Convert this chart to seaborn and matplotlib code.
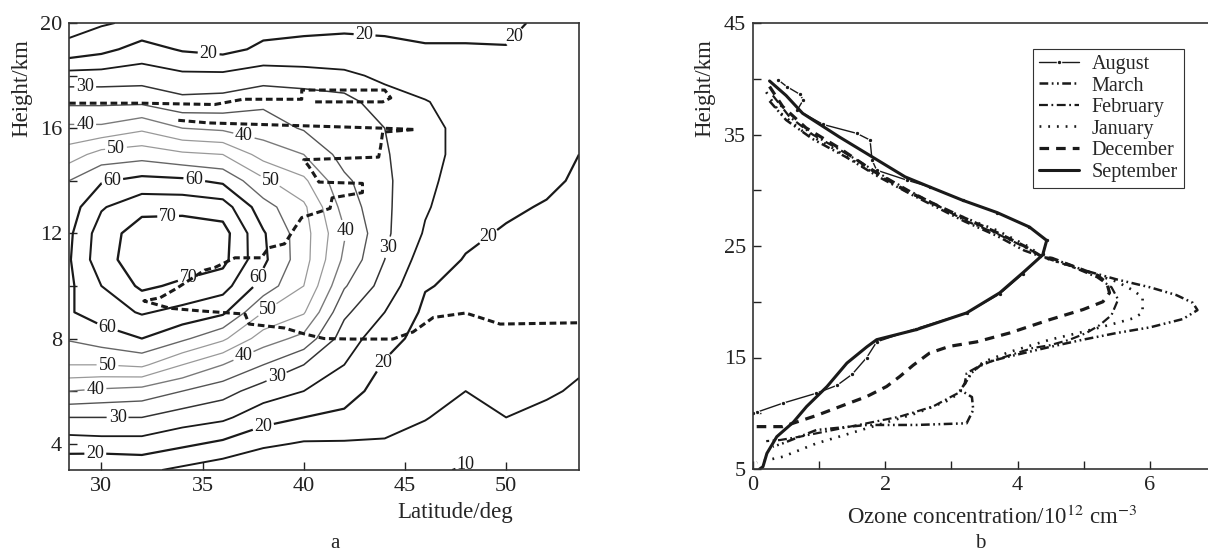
import numpy as np
import pandas as pd
import matplotlib
matplotlib.use("Agg")
import matplotlib.pyplot as plt
import seaborn as sns

# ---------------- panel a: humidity field (%) ----------------
lat_nodes = [28.4, 30, 32, 34, 36, 38, 40, 42, 44, 46, 48, 50, 52, 53.6]
height_nodes = list(range(3, 21))
# one column per latitude, heights 3..20 km
rh_284 = [16, 22.5, 30, 40, 50, 55.5, 59.5, 59, 59.5, 59, 57.5, 55, 47.5, 41, 34, 27, 16.5, 13]
rh_30 = [15, 23, 30, 39, 50, 57.5, 62.5, 65, 68, 67.5, 64.5, 59.5, 52, 41, 34, 27, 18.5, 14.5]
rh_32 = [16, 23, 30, 38, 51, 60, 65.5, 71, 73, 72.5, 68.5, 61.5, 53, 44, 34, 27.5, 22, 16]
rh_34 = [14, 21, 27.5, 35, 45, 56, 63.5, 69, 73, 73, 68.5, 61, 51, 40, 31.5, 26, 19.5, 19]
rh_36 = [12, 19, 26, 32, 40, 51, 61, 67, 71.5, 72, 67.5, 59, 50, 39, 32, 26, 18.5, 18]
rh_38 = [10, 16, 22, 27.5, 35, 42.5, 50, 58, 61, 60.5, 57, 51, 43, 37.5, 34, 27.5, 21, 18]
rh_40 = [11, 14.5, 20, 25, 30, 38.5, 45.5, 50, 52, 52, 51, 46, 40, 34.5, 33, 27, 21, 19]
rh_42 = [12, 14.5, 19, 22, 25, 27.5, 31, 35.5, 39, 40.5, 38, 36, 33, 32, 32, 26, 21.5, 19]
rh_44 = [12, 14.5, 17, 18, 19.5, 22, 25, 28, 30, 31, 31, 31, 30.5, 30, 27, 24, 21, 19]
rh_46 = [11, 13.5, 15.2, 16.5, 17, 18, 19, 20.3, 22.5, 24.5, 25.5, 26, 26.5, 26, 25.2, 23, 20.3, 19]
rh_48 = [9.5, 12, 13.5, 15, 16, 17, 18, 19, 19.7, 21, 22, 23, 23.5, 24, 23.5, 22, 20.3, 19]
rh_50 = [12, 13.5, 15, 16, 16.5, 17, 17.5, 18, 18.8, 19.5, 20.8, 22, 22.5, 23, 23, 22, 20.2, 19]
rh_52 = [12, 13, 14, 15.5, 16, 16.5, 17, 17.5, 18, 18.8, 19.6, 21, 22, 22.5, 22.5, 22, 21.5, 21]
rh_536 = [12.5, 13, 13.8, 14.5, 15.5, 16, 16.5, 17, 17.5, 18, 18.7, 19.3, 20, 21, 22, 22, 21.5, 21]

label_levels = [10, 20, 30, 40, 50, 60, 70]
mid_levels = [15, 25, 35, 45, 55, 65]

# tropopause (dashed)
tropo_up_lat = [28.4, 32, 35.6, 37, 39.9, 39.9, 44.0, 44.3, 43.9, 40.5]
tropo_up_h = [16.95, 16.95, 16.9, 17.1, 17.1, 17.45, 17.45, 17.15, 17.0, 17.0]
tropo_lat = [33.8, 35.3, 43.9, 45.5, 43.9, 43.8, 43.7, 40.0, 40.25, 40.75, 42.9, 42.9, 41.4,
             41.3, 39.9, 39.55, 39.05, 38.26, 37.9, 36.6, 35.6, 35.1, 33.7, 32.9, 32.1,
             33.4, 34.9, 37.1, 37.3, 39.05, 40.05, 41.0, 42.4, 44.4, 45.4, 46.4, 48.0,
             48.7, 49.7, 53.6]
tropo_h = [16.3, 16.2, 16.0, 15.95, 15.85, 15.3, 14.9, 14.8, 14.55, 13.95, 13.9, 13.55, 13.35,
           12.95, 12.6, 12.2, 11.6, 11.45, 11.07, 11.07, 10.7, 10.6, 9.9, 9.55, 9.43,
           9.15, 9.05, 8.93, 8.55, 8.4, 8.17, 8.0, 7.98, 7.98, 8.25, 8.8, 8.97,
           8.8, 8.55, 8.6]

# ---------------- panel b: ozone profiles (10^12 cm^-3 vs km) ----------------
sep_c = [0.25, 0.5, 0.75, 1.3, 1.8, 2.3, 2.67, 3.17, 3.69, 4.18, 4.44, 4.38, 4.08, 3.73, 3.23,
         2.47, 1.87, 1.72, 1.42, 1.12, 0.81, 0.61, 0.36, 0.21, 0.15, 0.1]
sep_h = [39.8, 38.5, 36.9, 34.8, 33.0, 31.2, 30.3, 29.1, 28.0, 26.7, 25.5, 24.2, 22.6, 20.8,
         19.0, 17.5, 16.6, 15.95, 14.5, 12.4, 10.6, 9.2, 7.9, 6.4, 5.2, 5.0]
aug_c = [0.38, 0.51, 0.71, 0.76, 0.67, 1.06, 1.57, 1.77, 1.8, 1.87, 2.33, 2.67, 3.17, 3.69,
         4.18, 4.44, 4.38, 4.08, 3.73, 3.23, 2.47, 1.87, 1.72, 1.5, 1.27, 0.96, 0.45, 0.06, 0.0]
aug_h = [39.9, 39.3, 38.6, 38.1, 37.2, 35.9, 35.1, 34.5, 32.7, 31.8, 30.9, 30.3, 29.1, 28.0,
         26.7, 25.5, 24.3, 22.5, 20.7, 19.0, 17.6, 16.4, 15.0, 13.5, 12.5, 11.8, 10.9, 10.1, 10.0]
mar_c = [0.25, 0.5, 0.9, 1.4, 1.9, 2.4, 2.8, 3.2, 3.69, 4.1, 4.38, 4.52, 4.99, 5.5, 6.0, 6.4,
         6.65, 6.72, 6.5, 6.0, 5.5, 4.99, 4.49, 3.88, 3.48, 3.3, 3.2, 3.13, 3.31, 3.33, 3.23,
         2.47, 1.72, 0.96, 0.45, 0.3]
mar_h = [38.0, 36.3, 34.6, 33.0, 31.2, 29.6, 28.4, 27.2, 25.9, 24.6, 24.0, 23.9, 22.85, 22.0,
         21.3, 20.6, 19.9, 19.25, 18.45, 17.7, 17.2, 16.6, 15.95, 15.1, 14.5, 13.6, 12.6, 12.1,
         11.45, 10.3, 9.1, 8.95, 8.95, 8.5, 7.3, 7.0]
feb_c = [0.3, 0.55, 0.9, 1.35, 1.85, 2.35, 2.8, 3.2, 3.69, 4.18, 4.38, 4.8, 5.2, 5.42, 5.52,
         5.42, 5.24, 5.04, 4.79, 4.49, 4.23, 3.88, 3.58, 3.38, 3.23, 3.2, 3.13, 2.97, 2.72, 2.22,
         1.72, 1.21, 0.71, 0.41, 0.2]
feb_h = [38.5, 36.6, 35.0, 33.5, 31.7, 30.0, 28.6, 27.3, 26.1, 24.7, 24.0, 23.2, 22.2, 21.3,
         20.2, 18.8, 17.9, 17.2, 16.6, 16.1, 15.85, 15.2, 14.6, 14.1, 13.6, 12.7, 11.9, 11.4,
         10.6, 9.7, 9.1, 8.5, 7.9, 7.6, 7.5]
jan_c = [0.2, 0.4, 0.75, 1.2, 1.7, 2.2, 2.67, 3.17, 3.69, 4.18, 4.38, 5.0, 5.5, 5.74, 5.89,
         5.89, 5.74, 5.5, 4.99, 4.49, 3.88, 3.48, 3.3, 3.2, 3.13, 2.97, 2.47, 1.97, 1.47, 0.96,
         0.45, 0.06]
jan_h = [38.8, 37.0, 35.3, 33.8, 32.0, 30.3, 28.9, 27.6, 26.4, 24.9, 24.0, 22.8, 21.8, 21.05,
         20.4, 19.0, 18.5, 18.1, 17.3, 16.6, 15.5, 14.6, 13.6, 12.6, 11.9, 11.2, 10.0, 9.1, 8.2,
         7.3, 6.1, 5.6]
dec_c = [0.25, 0.45, 0.8, 1.3, 1.8, 2.3, 2.8, 3.2, 3.69, 4.1, 4.38, 4.52, 4.99, 5.2, 5.35,
         5.39, 5.29, 4.99, 4.49, 3.88, 3.38, 2.97, 2.67, 2.42, 2.22, 2.02, 1.72, 1.36, 0.96,
         0.45, 0.0]
dec_h = [39.3, 37.5, 35.6, 33.8, 31.8, 30.0, 28.6, 27.5, 26.2, 25.0, 24.0, 23.9, 22.85, 22.4,
         21.7, 20.8, 20.0, 19.3, 18.4, 17.2, 16.4, 16.0, 15.4, 14.3, 13.3, 12.4, 11.5, 10.7, 9.8,
         8.8, 8.8]

months = ["August", "March", "February", "January", "December", "September"]

sns.set_theme(style="ticks")
plt.rcParams["font.family"] = ["Liberation Serif", "DejaVu Serif"]
plt.rcParams["mathtext.fontset"] = "stix"

fig = plt.figure(figsize=(12.08, 5.54), dpi=100)
ax1 = fig.add_axes([69 / 1208, 1 - 470 / 554, 510 / 1208, 447 / 554])
ax2 = fig.add_axes([753 / 1208, 1 - 469 / 554, 463 / 1208, 446 / 554])

# ---- contour panel
field = np.column_stack([rh_284, rh_30, rh_32, rh_34, rh_36, rh_38, rh_40, rh_42, rh_44,
                         rh_46, rh_48, rh_50, rh_52, rh_536])
line_col = {10: "k", 15: "k", 20: "k", 25: "#1a1a1a", 30: "#333333", 35: "#555555",
            40: "#7a7a7a", 45: "#999999", 50: "#999999", 55: "#666666", 60: "k", 65: "k", 70: "k"}
line_w = {10: 1.4, 15: 1.4, 20: 1.6, 25: 1.3, 30: 1.1, 35: 1.0, 40: 1.0, 45: 0.9,
          50: 0.9, 55: 1.0, 60: 1.6, 65: 1.5, 70: 1.7}
ax1.contour(lat_nodes, height_nodes, field, levels=mid_levels,
            colors=[line_col[v] for v in mid_levels],
            linewidths=[line_w[v] for v in mid_levels])
cs = ax1.contour(lat_nodes, height_nodes, field, levels=label_levels,
                 colors=[line_col[v] for v in label_levels],
                 linewidths=[line_w[v] for v in label_levels])
label_pos = [(35.3, 18.85), (43.0, 19.5), (50.8, 19.2), (43.9, 7.1), (49.0, 12.0),
             (38.0, 4.65), (29.7, 3.6),
             (29.2, 17.6), (44.0, 11.5), (38.8, 6.3), (30.8, 4.96),
             (29.2, 16.1), (37.1, 15.9), (42.0, 12.1), (37.1, 7.2), (29.7, 6.15),
             (30.7, 15.4), (38.4, 14.1), (38.2, 9.1), (30.3, 6.95),
             (30.6, 13.7), (34.6, 14.1), (37.8, 10.3), (30.2, 8.2),
             (33.3, 12.6), (34.3, 10.3), (48.3, 3.6)]
labels = ax1.clabel(cs, manual=label_pos, fmt="%d", fontsize=13,
                    colors="k", inline=True, inline_spacing=2)
for t in labels:
    t.set_rotation(0)

ax1.plot(tropo_up_lat, tropo_up_h, color="k", lw=2.2, dashes=(2.2, 1.2))
ax1.plot(tropo_lat, tropo_h, color="k", lw=2.2, dashes=(2.2, 1.2))

ax1.set_xlim(28.4, 53.6)
ax1.set_ylim(3, 20)
ax1.set_xticks([30, 35, 40, 45, 50])
ax1.set_yticks([4, 6, 8, 10, 12, 14, 16, 18, 20])
ax1.set_yticklabels(["4", "", "8", "", "12", "", "16", "", "20"])
ax1.set_xlabel("Latitude/deg", fontsize=16.5, va="center")
ax1.set_ylabel("Height/km", fontsize=16.5, va="center")
ax1.xaxis.set_label_coords(0.757, -0.094)
ax1.yaxis.set_label_coords(-0.092, 0.855)

# ---- profile panel
styles = {
    "August": dict(color="k", lw=1.0, marker="o", ms=3.2, linestyle="-"),
    "March": dict(color="k", lw=1.8, dashes=(3.5, 1.4, 0.7, 1.4, 0.7, 1.4)),
    "February": dict(color="k", lw=1.6, dashes=(4, 1.6, 0.8, 1.6)),
    "January": dict(color="k", lw=1.9, dashes=(0.7, 2.6)),
    "December": dict(color="k", lw=2.3, dashes=(3.0, 2.2)),
    "September": dict(color="k", lw=2.2, linestyle="-"),
}
series = {"August": (aug_c, aug_h), "March": (mar_c, mar_h), "February": (feb_c, feb_h),
          "January": (jan_c, jan_h), "December": (dec_c, dec_h), "September": (sep_c, sep_h)}
for m in months:
    c, h = series[m]
    sns.lineplot(x=c, y=h, ax=ax2, sort=False, estimator=None, label=m, **styles[m])

ax2.set_xlim(0, 7)
ax2.set_ylim(5, 45)
ax2.set_xticks([0, 1, 2, 3, 4, 5, 6, 7])
ax2.set_xticklabels(["0", "", "2", "", "4", "", "6", ""])
ax2.set_yticks([5, 10, 15, 20, 25, 30, 35, 40, 45])
ax2.set_yticklabels(["5", "", "15", "", "25", "", "35", "", "45"])
ax2.set_xlabel("Ozone concentration/10$^{12}$ cm$^{-3}$", fontsize=16.5, va="center")
ax2.set_ylabel("Height/km", fontsize=16.5, va="center")
ax2.xaxis.set_label_coords(0.516, -0.108)
ax2.yaxis.set_label_coords(-0.104, 0.855)
leg = ax2.legend(loc="upper left", bbox_to_anchor=(0.605, 0.942), fontsize=14.5,
                 frameon=True, fancybox=False, edgecolor="#333333", framealpha=1,
                 handlelength=2.0, labelspacing=0.12, borderpad=0.3, handletextpad=0.6,
                 borderaxespad=0)
leg.get_frame().set_linewidth(0.8)

for ax in (ax1, ax2):
    ax.tick_params(direction="in", length=6, width=1, labelsize=16, colors="#222222",
                   pad=5)
    for s in ax.spines.values():
        s.set_color("#333333")
        s.set_linewidth(1.2)
    ax.grid(False)

fig.text(335 / 1208, 1 - 543 / 554, "a", ha="center", va="center", fontsize=15)
fig.text(980 / 1208, 1 - 543 / 554, "b", ha="center", va="center", fontsize=15)

fig.savefig("out.png", dpi=100)
